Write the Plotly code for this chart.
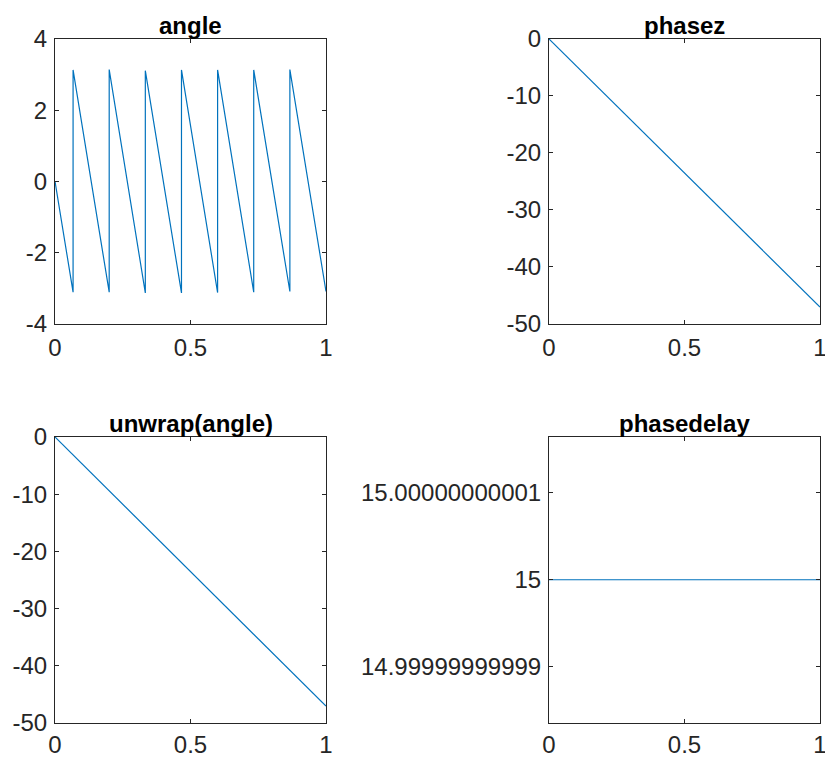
import plotly.graph_objects as go

# ---- data ----
angle_x = [0, 0.0667, 0.0667, 0.2, 0.2, 0.3333, 0.3333, 0.4667, 0.4667,
           0.6, 0.6, 0.7333, 0.7333, 0.8667, 0.8667, 1.0]
angle_y = [0, -3.12, 3.13, -3.12, 3.14, -3.14, 3.11, -3.14, 3.13,
           -3.13, 3.13, -3.12, 3.13, -3.10, 3.14, -3.10]
phasez_x = [0, 1]
phasez_y = [0, -47.12]
unwrap_x = [0, 1]
unwrap_y = [0, -47.12]
pdelay_x = [0, 1]
pdelay_y = [15, 15]

titles = ["angle", "phasez", "unwrap(angle)", "phasedelay"]
x_ticks = [0, 0.5, 1]
x_ticktext = ["0", "0.5", "1"]
angle_ticks = [-4, -2, 0, 2, 4]
angle_ticktext = ["-4", "-2", "0", "2", "4"]
phase_ticks = [-50, -40, -30, -20, -10, 0]
phase_ticktext = ["-50", "-40", "-30", "-20", "-10", "0"]
pd_ticks = [14.99999999999, 15, 15.00000000001]
pd_ticktext = ["14.99999999999", "15", "15.00000000001"]

LINE = "#0072BD"
AX = "#262626"
FONT = "Liberation Sans, Arial, sans-serif"
TICKSIZE = 24
TITLESIZE = 24

W, H = 825, 759
dom_x = [[55 / W, 326 / W], [549 / W, 820 / W]]
dom_y = [[1 - 323.5 / H, 1 - 39 / H], [1 - 722.5 / H, 1 - 437 / H]]

fig = go.Figure()
series = [(angle_x, angle_y), (phasez_x, phasez_y), (unwrap_x, unwrap_y), (pdelay_x, pdelay_y)]
for i, (xs, ys) in enumerate(series):
    n = "" if i == 0 else str(i + 1)
    fig.add_trace(go.Scatter(x=xs, y=ys, mode="lines", line=dict(color=LINE, width=1.2),
                             xaxis="x" + n, yaxis="y" + n, showlegend=False, hoverinfo="skip"))

common = dict(showline=True, linecolor=AX, linewidth=1, mirror="ticks", ticks="inside",
              ticklen=4, tickcolor=AX, tickwidth=1, showgrid=False, zeroline=False,
              automargin=False, ticklabeloverflow="allow",
              tickfont=dict(family=FONT, size=TICKSIZE, color=AX))

yinfo = [
    dict(range=[-4, 4], tickvals=angle_ticks, ticktext=angle_ticktext),
    dict(range=[-50, 0], tickvals=phase_ticks, ticktext=phase_ticktext),
    dict(range=[-50, 0], tickvals=phase_ticks, ticktext=phase_ticktext),
    dict(range=[15 - 1.64e-11, 15 + 1.64e-11], tickvals=pd_ticks, ticktext=pd_ticktext),
]
layout = {}
annotations = []
for i in range(4):
    r, c = divmod(i, 2)
    n = "" if i == 0 else str(i + 1)
    layout["xaxis" + n] = dict(domain=dom_x[c], anchor="y" + n, range=[0, 1],
                               tickvals=x_ticks, ticktext=x_ticktext,
                               ticklabelstandoff=3 if r == 0 else 1, **common)
    layout["yaxis" + n] = dict(domain=dom_y[r], anchor="x" + n, ticklabelstandoff=2,
                               **yinfo[i], **common)
    annotations.append(dict(text="<b>" + titles[i] + "</b>", x=sum(dom_x[c]) / 2, y=dom_y[r][1],
                            xref="paper", yref="paper", xanchor="center", yanchor="bottom",
                            yshift=-2, showarrow=False,
                            font=dict(family=FONT, size=TITLESIZE, color="#000000")))

fig.update_layout(width=W, height=H, margin=dict(l=0, r=0, t=0, b=0),
                  paper_bgcolor="white", plot_bgcolor="white",
                  annotations=annotations, **layout)
fig.write_html("out.html")
